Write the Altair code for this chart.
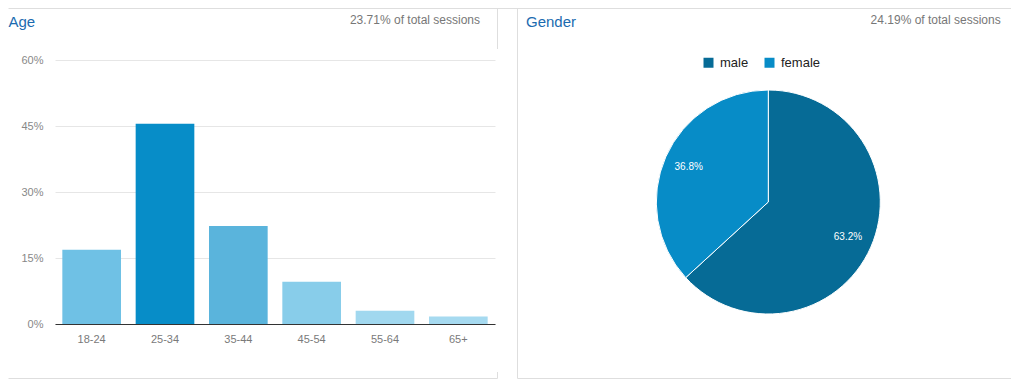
import altair as alt
import pandas as pd

# ---------------- data ----------------
age_groups = ["18-24", "25-34", "35-44", "45-54", "55-64", "65+"]
age_share = [0.169, 0.455, 0.223, 0.096, 0.030, 0.017]
y_ticks = [0, 0.15, 0.30, 0.45, 0.60]

genders = ["male", "female"]
gender_share = [0.632, 0.368]

age_total_text = "23.71% of total sessions"
gender_total_text = "24.19% of total sessions"

# ---------------- styles ----------------
age_colors = ["#6fc1e5", "#078dc8", "#5ab4dc", "#88cdea", "#a1d8ef", "#a6daf0"]
gender_colors = ["#066b96", "#078cc7"]
FONT = "Liberation Sans"
TITLE_COLOR = "#1b6bb0"
BORDER = "#dedede"
W, H = 1003, 371

age_df = pd.DataFrame({"age": age_groups, "share": age_share})
gender_df = pd.DataFrame({"gender": genders, "share": gender_share,
                          "order": list(range(len(genders)))})
one = alt.Data(values=[{"k": 0}])

# ---------------- bar chart ----------------
bars = alt.Chart(age_df).mark_bar().encode(
    x=alt.X("age:N", sort=age_groups,
            scale=alt.Scale(range=[47, 487], paddingInner=0.2, paddingOuter=0.1),
            axis=alt.Axis(title=None, labelAngle=0, ticks=False, tickSize=0,
                          domainColor="#333333", labelPadding=9, offset=-55,
                          labelColor="#7a7a7a", labelFontSize=11, labelFont=FONT,
                          grid=False)),
    y=alt.Y("share:Q",
            scale=alt.Scale(domain=[0, 0.6], range=[316, 52], nice=False),
            axis=alt.Axis(title=None, values=y_ticks, format=".0%", domain=False,
                          ticks=False, tickSize=0, offset=-35, labelPadding=0,
                          labelColor="#888888", labelFontSize=11, labelFont=FONT,
                          grid=True, gridColor="#e6e6e6")),
    color=alt.Color("age:N", sort=age_groups,
                    scale=alt.Scale(domain=age_groups, range=age_colors),
                    legend=None),
)

# ---------------- pie chart ----------------
pie_base = alt.Chart(gender_df).encode(
    theta=alt.Theta("share:Q", stack=True),
    order=alt.Order("order:Q"),
)
arcs = pie_base.mark_arc(outerRadius=112, stroke="white", strokeWidth=1).encode(
    x=alt.value(760.3), y=alt.value(194),
    color=alt.Color("gender:N", sort=genders,
                    scale=alt.Scale(domain=genders, range=gender_colors),
                    legend=alt.Legend(title=None, orient="none", direction="horizontal",
                                      legendX=694, legendY=48, padding=0,
                                      symbolType="square", symbolSize=100,
                                      symbolStrokeWidth=0, labelOffset=5,
                                      columnPadding=14, labelFontSize=13,
                                      labelFont=FONT, labelColor="#222222")),
)
pie_labels = pie_base.mark_text(radius=87, fontSize=10, font=FONT, color="white").encode(
    x=alt.value(760.3), y=alt.value(194),
    text=alt.Text("share:Q", format=".1%"),
)

# ---------------- titles ----------------
def label(txt, x, y, size, color, align="left"):
    return alt.Chart(one).mark_text(align=align, baseline="alphabetic", font=FONT,
                                    fontSize=size, color=color).encode(
        x=alt.value(x), y=alt.value(y), text=alt.value(txt))

titles = [
    label("Age", 0.5, 18.7, 15, TITLE_COLOR),
    label("Gender", 518, 19, 15, TITLE_COLOR),
    label(age_total_text, 472, 16.3, 12, "#777777", "right"),
    label(gender_total_text, 992.7, 16.3, 12, "#777777", "right"),
]

# ---------------- panel borders ----------------
def hline(x1, x2, y):
    return alt.Chart(one).mark_rule(color=BORDER, strokeWidth=1, orient="horizontal").encode(
        x=alt.value(x1), x2=alt.value(x2), y=alt.value(y))

def vline(x, y1, y2):
    return alt.Chart(one).mark_rule(color=BORDER, strokeWidth=1, orient="vertical").encode(
        x=alt.value(x), y=alt.value(y1), y2=alt.value(y2))

borders = [
    hline(0.5, W, 0.5),
    vline(489.5, 0.5, 41),
    vline(489.5, 364, H - 0.5),
    hline(0.5, 489.5, H - 0.5),
    vline(509.5, 0.5, H - 0.5),
    hline(509.5, W, H - 0.5),
]

chart = alt.layer(*borders, bars, arcs, pie_labels, *titles).resolve_scale(
    color="independent"
).properties(
    width=W, height=H, padding=0,
    autosize=alt.AutoSizeParams(type="none"),
).configure(font=FONT).configure_view(strokeWidth=0, stroke="transparent")

chart.save("out.html", embed_options={"renderer": "svg", "actions": False})
